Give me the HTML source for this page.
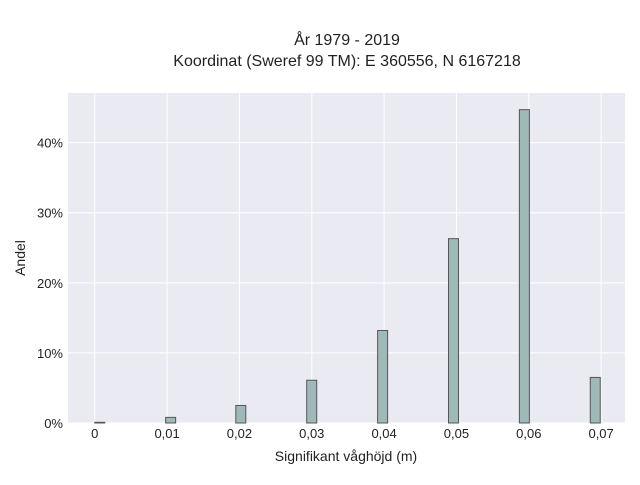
<!DOCTYPE html>
<html><head><meta charset="utf-8"><style>
body{margin:0;background:#fff;font-family:"Liberation Sans",sans-serif;}
svg text{font-family:"Liberation Sans",sans-serif;fill:#222;}
</style></head><body>
<svg id="chart" width="640" height="480">
<text x="347" y="45" text-anchor="middle" font-size="16">År 1979 - 2019</text>
<text x="347" y="66" text-anchor="middle" font-size="16">Koordinat (Sweref 99 TM): E 360556, N 6167218</text>
<rect x="68" y="93" width="557" height="330" fill="#eaeaf2"/>
<g id="grid"></g><g id="bars"></g><g id="ticks"></g>
<text x="346" y="461" text-anchor="middle" font-size="14">Signifikant våghöjd (m)</text>
<text transform="translate(25,258) rotate(-90)" text-anchor="middle" font-size="14">Andel</text>
</svg>
<script>
const binStarts=[0.0,0.0098,0.0195,0.0293,0.0391,0.0489,0.0587,0.0685];
const shares=[0.1,0.8,2.5,6.1,13.2,26.3,44.7,6.5];
const xTicks=[0,0.01,0.02,0.03,0.04,0.05,0.06,0.07];
const xTickLabels=["0","0,01","0,02","0,03","0,04","0,05","0,06","0,07"];
const yTicks=[0,10,20,30,40];
const yTickLabels=["0%","10%","20%","30%","40%"];
const binWidth=0.00138;
const X0=68,X1=625,Y0=423,Y1=93;
const xmin=-0.0037,xmax=0.0733,ymin=0,ymax=47.08;
const sx=v=>X0+(v-xmin)/(xmax-xmin)*(X1-X0);
const sy=v=>Y0-(v-ymin)/(ymax-ymin)*(Y0-Y1);
const NS="http://www.w3.org/2000/svg";
const g=document.getElementById('grid'),b=document.getElementById('bars'),t=document.getElementById('ticks');
function mk(tag,a,p){const e=document.createElementNS(NS,tag);for(const k in a)e.setAttribute(k,a[k]);p.appendChild(e);return e;}
xTicks.forEach((v,i)=>{
 const l=mk('line',{x1:sx(v),x2:sx(v),y1:Y1,y2:Y0,stroke:'#fff','stroke-width':1},g);
 
 
 const tx=mk('text',{x:sx(v),y:438,'text-anchor':'middle','font-size':13},t);
 tx.textContent=xTickLabels[i];
 
 
});
yTicks.forEach((v,i)=>{
 const l=mk('line',{x1:X0,x2:X1,y1:sy(v),y2:sy(v),stroke:'#fff','stroke-width':1},g);
 
 
 const tx=mk('text',{x:63,y:sy(v)+5,'text-anchor':'end','font-size':13},t);
 tx.textContent=yTickLabels[i];
 
 
});
binStarts.forEach((v,i)=>{
 const x=sx(v),w=sx(v+binWidth)-x,y=sy(shares[i]);
 const r=mk('rect',{x:x,y:y,width:w,height:Y0-y,fill:'#9fb9b9',stroke:'#555','stroke-width':1},b);
 
 
});
</script>
</body></html>
